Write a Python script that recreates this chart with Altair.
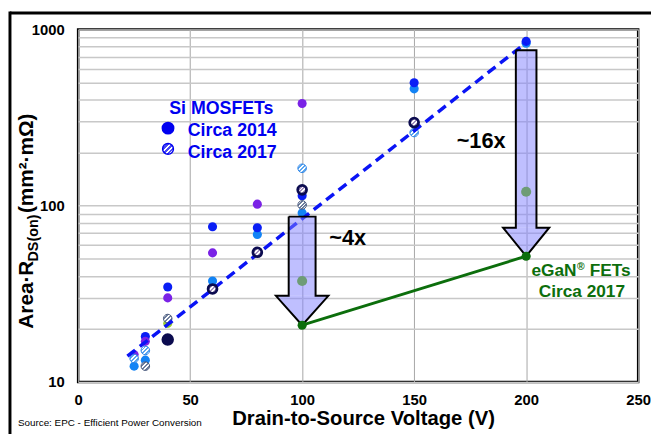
import math
import altair as alt
import pandas as pd

FONT = "Liberation Sans"

# ---------------- data ----------------
# Si MOSFETs circa 2014 (solid dots), grouped by colour
blue_x = [30, 40, 60, 80, 100, 150, 200]
blue_y = [18.1, 34.6, 76, 75, 114, 498, 855]
lightblue_x = [25, 30, 60, 80, 100, 150, 200]
lightblue_y = [12.3, 13.3, 37.4, 68.7, 91, 460, 835]
purple_x = [25, 30, 40, 60, 80, 100]
purple_y = [14.3, 17.0, 30.0, 54, 102, 380]
yellowgreen_x = [40]
yellowgreen_y = [21.5]
navy_x = [40]
navy_y = [17.4]

# Si MOSFETs circa 2017 (hatched dots)
hatch_lb_x = [25, 30, 100, 150]
hatch_lb_y = [13.6, 15.1, 163, 260]
hatch_gray_x = [30, 40, 100]
hatch_gray_y = [12.3, 22.9, 101]
ring_x = [60, 80, 100, 150]
ring_y = [33.7, 54.4, 123, 296]

# faded points seen through the arrows
faded_x = [100, 200]
faded_y = [37.4, 120]

# eGaN FETs circa 2017
egan_x = [100, 200]
egan_y = [21, 51.7]

# Si trend line
trend_x = [22, 200]
trend_y = [14, 840]

# improvement arrows: centre, shaft half-width, head half-width, shaft top, head base, tip
arrow_names = ["4x", "16x"]
arrow_cx = [100, 200]
arrow_shaft_hw = [6.0, 4.6]
arrow_head_hw = [11.7, 10.3]
arrow_top = [86.7, 762]
arrow_base = [30.8, 75]
arrow_tip = [21, 51.7]


def df(xs, ys):
    return pd.DataFrame({"x": xs, "y": ys})


shaft_rows, head_rows, outline_rows = [], [], []
for name, cx, shw, hhw, top, base, tip in zip(
    arrow_names, arrow_cx, arrow_shaft_hw, arrow_head_hw, arrow_top, arrow_base, arrow_tip
):
    shaft_rows.append({"arrow": name, "x": cx - shw, "x2": cx + shw, "y": top, "y2": base})
    for px, py2 in [(cx - hhw, base), (cx, tip), (cx + hhw, base)]:
        head_rows.append({"arrow": name, "x": px, "y": base, "y2": py2})
    pts = [
        (cx - shw, top), (cx - shw, base), (cx - hhw, base), (cx, tip),
        (cx + hhw, base), (cx + shw, base), (cx + shw, top), (cx - shw, top),
    ]
    for i, (px, py) in enumerate(pts):
        outline_rows.append({"arrow": name, "i": i, "x": px, "y": py})
shaft_df = pd.DataFrame(shaft_rows)
head_df = pd.DataFrame(head_rows)
outline_df = pd.DataFrame(outline_rows)


def stripes(c, n=9):
    stops = []
    for i in range(n):
        col = c if i % 2 == 0 else "#ffffff"
        stops.append(alt.GradientStop(offset=i / n, color=col))
        stops.append(alt.GradientStop(offset=(i + 1) / n, color=col))
    return alt.LinearGradient(gradient="linear", stops=stops, x1=0, y1=0, x2=1, y2=1)


# ---------------- encodings ----------------
x_scale = alt.Scale(domain=[0, 250], nice=False, zero=False)
y_scale = alt.Scale(type="log", domain=[10, 1000], nice=False)

x_axis = alt.Axis(
    values=[0, 50, 100, 150, 200, 250], title=None, grid=True, gridColor="#A6A6A6", gridWidth=1,
    domain=False, ticks=False, labelFontSize=15, labelFontWeight="bold", labelColor="black",
    labelPadding=11, labelFlush=False, labelOverlap=False, format="d",
)
y_vals = [10, 20, 30, 40, 50, 60, 70, 80, 90, 100, 200, 300, 400, 500, 600, 700, 800, 900, 1000]
y_axis = alt.Axis(
    values=y_vals, title=None, grid=True, gridColor="#C8C8C8", gridWidth=1.5,
    domain=False, ticks=False, labelFontSize=15, labelFontWeight="bold", labelColor="black",
    labelPadding=14, labelFlush=False, labelOverlap=False,
    labelExpr="(datum.value == 10 || datum.value == 100 || datum.value == 1000) ? format(datum.value, 'd') : ''",
)

X = alt.X("x:Q", scale=x_scale, axis=x_axis)
Y = alt.Y("y:Q", scale=y_scale, axis=y_axis)


def dots(xs, ys, **kw):
    return alt.Chart(df(xs, ys)).mark_point(shape="circle", filled=True, opacity=1, **kw).encode(x=X, y=Y)


one = alt.Data(values=[{}])


def label(txt, x, y, size, color="black", weight="bold", align="left", angle=0):
    return alt.Chart(one).mark_text(
        text=txt, font=FONT, fontSize=size, fontWeight=weight, color=color,
        align=align, baseline="alphabetic", angle=angle,
    ).encode(x=alt.value(x), y=alt.value(y))


layers = []

# solid points (circa 2014)
layers.append(dots(lightblue_x, lightblue_y, size=85, fill="#1283F5", strokeWidth=0))
layers.append(dots(blue_x, blue_y, size=85, fill="#0A1EF5", strokeWidth=0))
layers.append(dots(purple_x, purple_y, size=85, fill="#7A22E6", strokeWidth=0))
layers.append(dots(yellowgreen_x, yellowgreen_y, size=85, fill="#9ACD32", strokeWidth=0))
layers.append(dots(navy_x, navy_y, size=160, fill="#0B0B4F", strokeWidth=0))

# hatched points (circa 2017)
layers.append(dots(hatch_lb_x, hatch_lb_y, size=75, fill=stripes("#5AA6F0"), stroke="#2C83E6", strokeWidth=1))
layers.append(dots(hatch_gray_x, hatch_gray_y, size=75, fill=stripes("#6F7F9E"), stroke="#46567A", strokeWidth=1))

# trend line
layers.append(
    alt.Chart(df(trend_x, trend_y)).mark_line(color="#0A14F5", strokeWidth=3.5, strokeDash=[10, 6]).encode(x=X, y=Y)
)

# navy rings
layers.append(dots(ring_x, ring_y, size=80, fill=stripes("#A38FBC"), stroke="#0B0B4F", strokeWidth=2.8))

# arrows: shaft, head (filled), then outline
layers.append(
    alt.Chart(shaft_df).mark_rect(fill="#8080FF", fillOpacity=0.5, strokeWidth=0).encode(
        x=alt.X("x:Q", scale=x_scale, axis=x_axis), x2="x2:Q",
        y=alt.Y("y:Q", scale=y_scale, axis=y_axis), y2="y2:Q",
    )
)
layers.append(
    alt.Chart(head_df).mark_area(fill="#8080FF", fillOpacity=0.5, strokeWidth=0, interpolate="linear").encode(
        x=X, y=alt.Y("y:Q", scale=y_scale, axis=y_axis, stack=None), y2="y2:Q", detail="arrow:N",
    )
)
layers.append(
    alt.Chart(outline_df).mark_line(color="black", strokeWidth=2, strokeJoin="miter").encode(
        x=X, y=Y, detail="arrow:N", order="i:Q",
    )
)

# faded points
layers.append(dots(faded_x, faded_y, size=105, fill="#6E9C76", strokeWidth=0))

# eGaN line and points
layers.append(alt.Chart(df(egan_x, egan_y)).mark_line(color="#0C6E0C", strokeWidth=3).encode(x=X, y=Y))
layers.append(dots(egan_x, egan_y, size=85, fill="#0C6E0C", strokeWidth=0))

# annotation texts (positions relative to the plot area)
layers.append(label("~4x", 273, 218, 22, align="center"))
layers.append(label("~16x", 408, 120, 22, align="center"))
layers.append(label("Si MOSFETs", 145, 86, 18, color="#0000F0", align="center"))
layers.append(label("Circa 2014", 111, 108, 18, color="#0000F0"))
layers.append(label("Circa 2017", 111, 130, 18, color="#0000F0"))
layers.append(
    alt.Chart(one).mark_point(shape="circle", filled=True, opacity=1, size=170, fill="#0000F0", strokeWidth=0)
    .encode(x=alt.value(91), y=alt.value(100))
)
layers.append(
    alt.Chart(one).mark_point(shape="circle", filled=True, opacity=1, size=120, fill=stripes("#4A4AF5"),
                              stroke="#0000F0", strokeWidth=1.5)
    .encode(x=alt.value(91), y=alt.value(121))
)
layers.append(label("eGaN", 459, 250, 17.5, color="#0C6E0C"))
layers.append(label("®", 505, 244, 10.5, color="#0C6E0C"))
layers.append(label("FETs", 518, 250, 17.5, color="#0C6E0C"))
layers.append(label("Circa 2017", 510, 271, 17.5, color="#0C6E0C", align="center"))

# axis titles
layers.append(label("Drain-to-Source Voltage (V)", 289, 401, 20.5, align="center"))
layers.append(label("Area·R", -46, 303, 21, angle=270))
layers.append(label("DS(on)", -41, 235, 14.5, angle=270))
layers.append(label("(mm²·mΩ)", -46, 186, 21, angle=270))
layers.append(label("Source: EPC - Efficient Power Conversion", -61, 402, 10, weight="normal"))

# outer frame (top and left edges visible in the reference)
layers.append(
    alt.Chart(one).mark_rule(color="black", strokeWidth=3)
    .encode(x=alt.value(-69), x2=alt.value(600), y=alt.value(-16.5))
)
layers.append(
    alt.Chart(one).mark_rule(color="black", strokeWidth=3)
    .encode(x=alt.value(-69), y=alt.value(-18), y2=alt.value(420))
)

chart = (
    alt.layer(*layers)
    .properties(
        width=567, height=357,
        autosize=alt.AutoSizeParams(type="none"),
        padding={"left": 71, "top": 19, "right": 13, "bottom": 50},
    )
    .configure(font=FONT, background="white")
    .configure_view(stroke="black", strokeWidth=2.5)
)

chart.save("out.html", embed_options={"renderer": "svg", "actions": False})
